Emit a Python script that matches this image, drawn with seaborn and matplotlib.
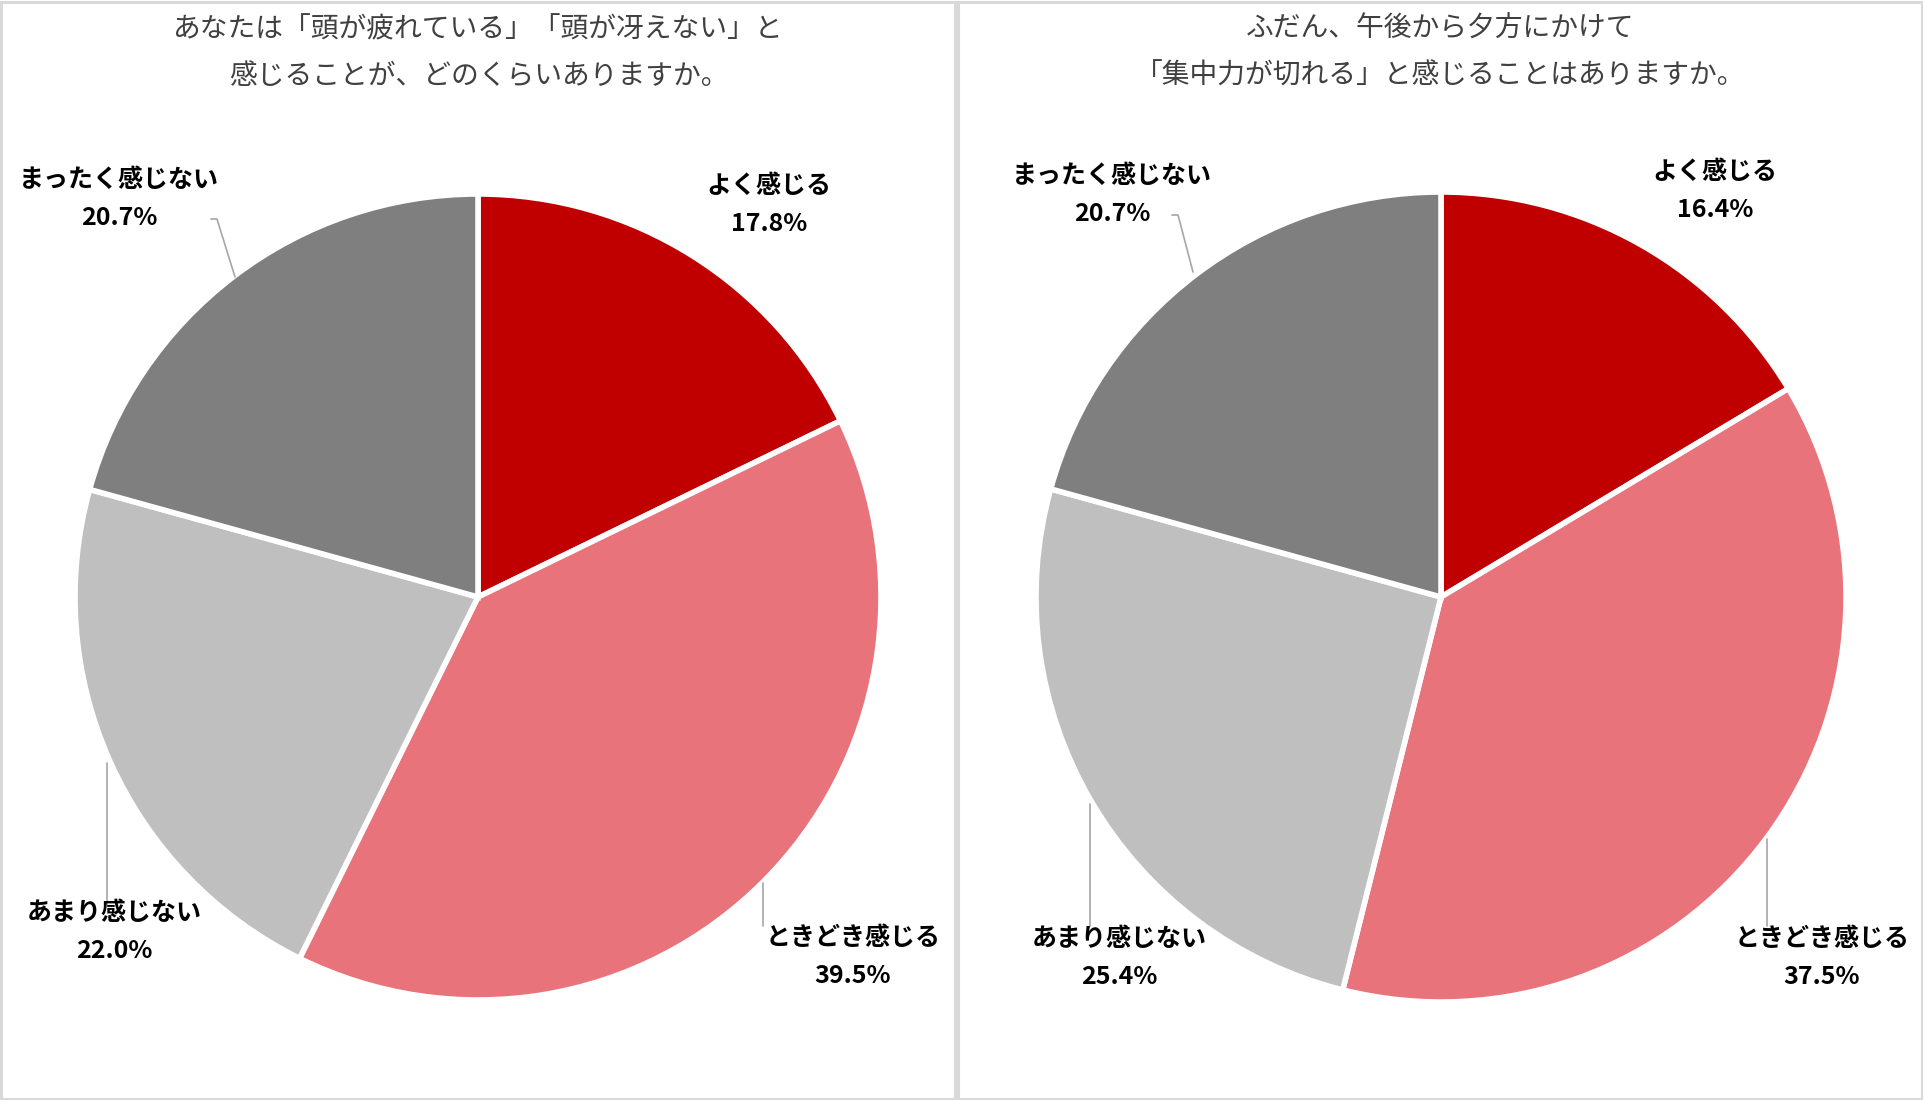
import numpy as np
import seaborn as sns
import matplotlib
matplotlib.use("Agg")
from matplotlib import pyplot as plt
from matplotlib.patches import Rectangle

# ------------------------------------------------------------
# data
# ------------------------------------------------------------
categories = ["よく感じる", "ときどき感じる", "あまり感じない", "まったく感じない"]
left_values = [17.8, 39.5, 22.0, 20.7]
right_values = [16.4, 37.5, 25.4, 20.7]
left_title = ["あなたは「頭が疲れている」「頭が冴えない」と",
              "感じることが、どのくらいありますか。"]
right_title = ["ふだん、午後から夕方にかけて",
               "「集中力が切れる」と感じることはありますか。"]

slice_colors = ["#C00000", "#E9737B", "#BFBFBF", "#7F7F7F"]

# ------------------------------------------------------------
# layout (pixel coords, origin top-left)
# ------------------------------------------------------------
W, H = 1924, 1100
panels = [
    dict(values=left_values, title=left_title, x0=0, x1=957, cx=478, cy=597, r=403,
         labels=[(769, 205), (853, 957), (114, 932), (119, 199)],
         leaders=[None,
                  [(763, 883), (763, 926)],
                  [(107, 763), (107, 905)],
                  [(211, 219), (217, 219), (235, 277)]]),
    dict(values=right_values, title=right_title, x0=957, x1=1924, cx=1441, cy=597, r=405,
         labels=[(1715, 191), (1822, 958), (1119, 958), (1112, 195)],
         leaders=[None,
                  [(1767, 839), (1767, 926)],
                  [(1090, 804), (1090, 926)],
                  [(1172, 215), (1178, 215), (1193, 272)]]),
]

sns.set_theme(style="white")
plt.rcParams['font.family'] = ['Noto Sans CJK JP', 'DejaVu Sans']

fig = plt.figure(figsize=(W / 100, H / 100), dpi=100)
fig.patch.set_facecolor("white")

# overlay axes in pixel units for titles, labels, leader lines, borders
over = fig.add_axes([0, 0, 1, 1], zorder=2)
over.set_xlim(0, W)
over.set_ylim(H, 0)
over.axis("off")
over.patch.set_alpha(0)

palette = sns.color_palette(slice_colors)

for p in panels:
    cx, cy, r = p["cx"], p["cy"], p["r"]
    ax = fig.add_axes([(cx - r) / W, (H - cy - r) / H, 2 * r / W, 2 * r / H], zorder=1)
    ax.pie(p["values"], colors=palette, startangle=90, counterclock=False,
           wedgeprops=dict(edgecolor="white", linewidth=4))
    ax.set_xlim(-1, 1)
    ax.set_ylim(-1, 1)
    ax.set_aspect("auto")
    ax.axis("off")

    # panel border
    over.add_patch(Rectangle((p["x0"] + 1.5, 1.5), p["x1"] - p["x0"] - 3, H - 3,
                             fill=False, edgecolor="#D9D9D9", linewidth=2.2))

    # title
    tx = (p["x0"] + p["x1"]) / 2
    over.text(tx, 29, p["title"][0], ha="center", va="center", fontsize=20, color="#404040")
    over.text(tx, 76, p["title"][1], ha="center", va="center", fontsize=20, color="#404040")

    # data labels
    for name, val, (lx, ly), lead in zip(categories, p["values"], p["labels"], p["leaders"]):
        if lead is not None:
            xs, ys = zip(*lead)
            over.plot(xs, ys, color="#A6A6A6", linewidth=1.2)
        over.text(lx, ly - 19, name, ha="center", va="center", fontsize=18,
                  fontweight="bold", color="black")
        over.text(lx, ly + 19, f"{val:.1f}%", ha="center", va="center", fontsize=18,
                  fontweight="bold", color="black")

fig.savefig("out.png", dpi=100, facecolor="white")
plt.close(fig)
